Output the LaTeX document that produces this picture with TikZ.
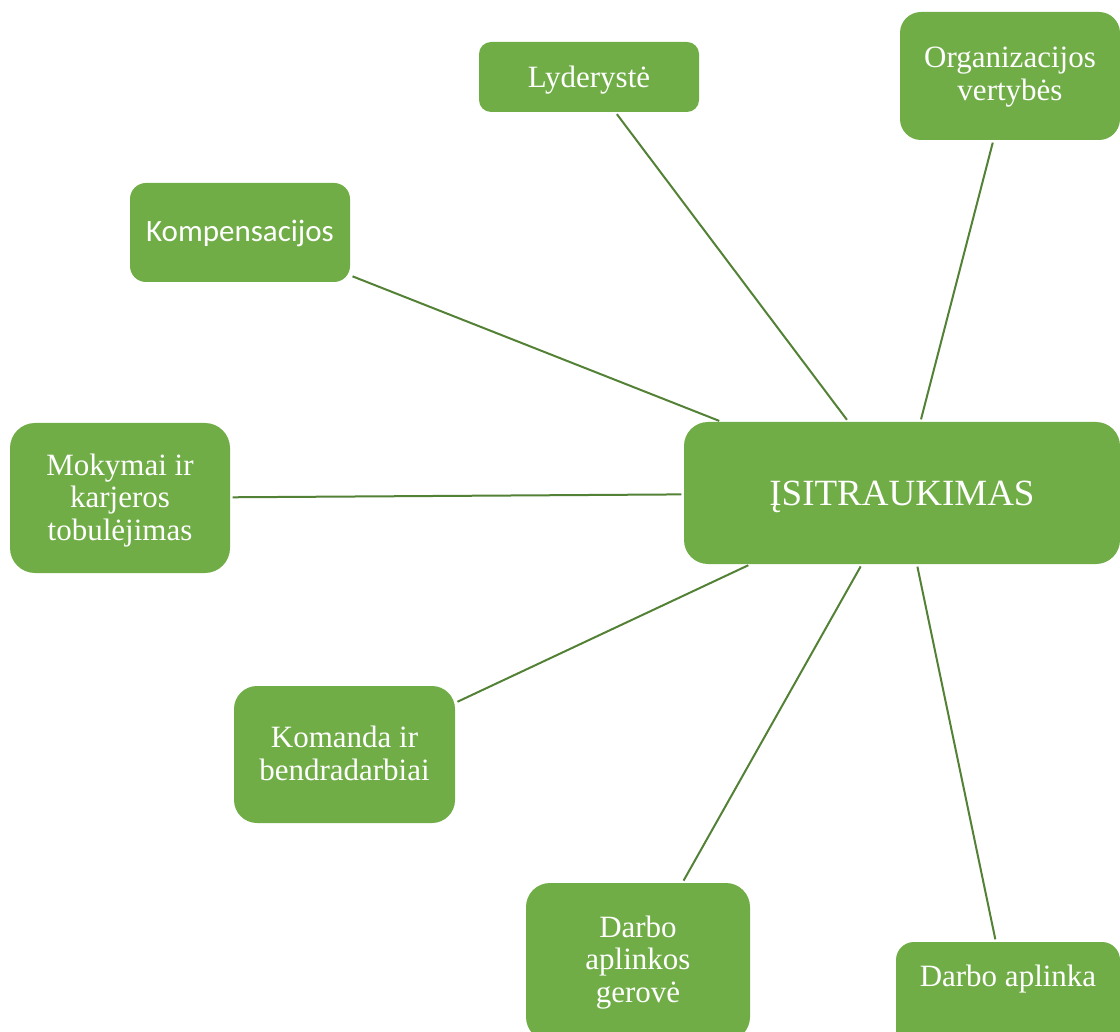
\documentclass[tikz,border=0pt]{standalone}
\usepackage{fontspec}
\setmainfont{Liberation Serif}
\newfontfamily\calibrifont{Carlito}
\definecolor{boxgreen}{HTML}{70AD47}
\definecolor{linegreen}{HTML}{538135}
\tikzset{
  box/.style={fill=boxgreen, text=white, align=center, inner sep=0pt, anchor=base,
    minimum width=220pt, font=\fontsize{31}{32.5}\selectfont},
  link/.style={linegreen, line width=2pt, shorten <=2.5pt, shorten >=2.5pt}
}
\begin{document}
\begin{tikzpicture}[x=1pt,y=-1pt]
  \useasboundingbox (0,0) rectangle (1120,1032);
  \clip (0,0) rectangle (1120,1032);
  % centrinis blokas (vieta = paskutinės eilutės bazinė linija)
  \node[box, minimum width=436pt, text height=83pt, text depth=59pt, rounded corners=24pt,
    font=\fontsize{37}{42}\selectfont] (main) at (902,505) {ĮSITRAUKIMAS};
  % aplinkiniai blokai
  \node[box, text height=46pt, text depth=24pt, rounded corners=12pt] (lyd) at (589,88) {Lyderystė};
  \node[box, text height=88.5pt, text depth=39.5pt, rounded corners=21pt] (org) at (1010,100.5) {Organizacijos\\vertybės};
  \node[box, text height=59pt, text depth=40pt, rounded corners=16pt,
    font=\calibrifont\fontsize{31}{35}\selectfont] (komp) at (240,242) {Kompensacijos};
  \node[box, text height=117pt, text depth=33pt, rounded corners=25pt] (mok) at (120,540) {Mokymai ir\\karjeros\\tobulėjimas};
  \node[box, minimum width=221pt, text height=94pt, text depth=43pt, rounded corners=23pt] (kom) at (344.5,780) {Komanda ir\\bendradarbiai};
  \node[box, minimum width=224pt, text height=119pt, text depth=39pt, rounded corners=24pt] (ger) at (638,1002) {Darbo\\aplinkos\\gerovė};
  \node[box, minimum width=224pt, text height=44pt, text depth=72pt, rounded corners=18pt] (dar) at (1008,986) {Darbo aplinka};
  % linijos
  \foreach \n in {lyd,org,komp,mok,kom,ger,dar}
    \draw[link] (main) -- (\n);
\end{tikzpicture}
\end{document}
